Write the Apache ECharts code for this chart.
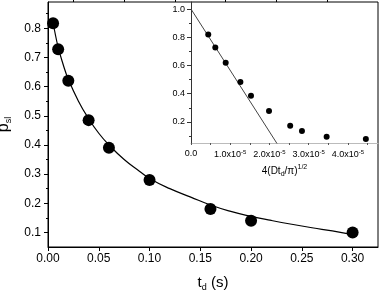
<!DOCTYPE html>
<html><head><meta charset="utf-8">
<script src="https://cdn.jsdelivr.net/npm/echarts@6/dist/echarts.min.js"></script>
<style>html,body{margin:0;padding:0;background:#fff}#c{width:380px;height:294px}</style>
</head><body><div id="c"></div>
<script>
// Main plot data
const tdValues  = [0.005, 0.01, 0.02, 0.04, 0.06, 0.10, 0.16, 0.20, 0.30];
const psiValues = [0.817, 0.728, 0.62, 0.485, 0.39, 0.28, 0.18, 0.14, 0.10];
// Fit curve
const fitT = [0.004, 0.006, 0.01, 0.015, 0.02, 0.03, 0.04, 0.05, 0.06, 0.075, 0.09, 0.10, 0.12, 0.14, 0.16, 0.18, 0.20, 0.22, 0.24, 0.26, 0.28, 0.296];
const fitP = [0.835, 0.80, 0.735, 0.675, 0.625, 0.55, 0.49, 0.44, 0.40, 0.35, 0.31, 0.285, 0.25, 0.222, 0.194, 0.172, 0.155, 0.141, 0.128, 0.116, 0.105, 0.095];
// Inset data (x in units of 1e-5)
const insetX = [0.44, 0.62, 0.885, 1.26, 1.53, 1.99, 2.53, 2.83, 3.46, 4.46];
const insetY = [0.82, 0.728, 0.62, 0.483, 0.385, 0.277, 0.172, 0.135, 0.094, 0.078];
const insetLineX = [0, 2.30];
const insetLineY = [1.0, 0.0];
// Tick labels
const mainXTicks = [0, 0.05, 0.10, 0.15, 0.20, 0.25, 0.30];
const mainXMinor = [0.025, 0.075, 0.125, 0.175, 0.225, 0.275];
const mainYTicks = [0.1, 0.2, 0.3, 0.4, 0.5, 0.6, 0.7, 0.8];
const mainYMinor = [0.15, 0.25, 0.35, 0.45, 0.55, 0.65, 0.75, 0.85];
const insetXTicks = [0, 1, 2, 3, 4];
const insetXMinor = [0.5, 1.5, 2.5, 3.5, 4.5];
const insetYTicks = [0.2, 0.4, 0.6, 0.8, 1.0];
const insetYMinor = [0.1, 0.3, 0.5, 0.7, 0.9];

const FONT = 'Liberation Sans, Arial, sans-serif';
const chart = echarts.init(document.getElementById('c'));

function hiddenAxisBase(gridIndex, min, max) {
  return { gridIndex, min, max, axisLine: {show: false}, axisLabel: {show: false}, splitLine: {show: false} };
}

chart.setOption({
  animation: false,
  backgroundColor: '#fff',
  grid: [
    {left: 48, top: 2, right: 2, bottom: 47, show: true, borderColor: '#000', borderWidth: 1, backgroundColor: 'transparent', outerBoundsMode: 'none', containLabel: false},
    {left: 191, top: 2, right: 2, bottom: 151, show: false, outerBoundsMode: 'none', containLabel: false}
  ],
  xAxis: [
    { gridIndex: 0, type: 'value', min: 0, max: 0.325,
      axisLine: {show: true, onZero: false, lineStyle: {color: '#000', width: 1}},
      axisTick: {show: true, inside: false, length: 4, customValues: mainXTicks, lineStyle: {color: '#000'}},
      axisLabel: {customValues: mainXTicks, formatter: v => v.toFixed(2), color: '#000', fontSize: 12, fontFamily: FONT, margin: 6},
      splitLine: {show: false},
      name: '{t|t}{d|d}{t| (s)}', nameLocation: 'middle', nameGap: 27,
      nameTextStyle: {rich: {t: {fontSize: 15, fontFamily: FONT, color: '#000'}, d: {fontSize: 9, fontFamily: FONT, color: '#000', padding: [9, 0, 0, 0]}}}
    },
    Object.assign(hiddenAxisBase(0, 0, 0.325), {type: 'value',
      axisTick: {show: true, inside: false, length: 2, customValues: mainXMinor, lineStyle: {color: '#000'}}}),
    { gridIndex: 1, type: 'value', min: 0, max: 4.77,
      axisLine: {show: true, onZero: false, lineStyle: {color: '#bbb', width: 1}},
      axisTick: {show: true, inside: false, length: 2, customValues: insetXMinor.concat(insetXTicks), lineStyle: {color: '#555'}},
      axisLabel: {customValues: insetXTicks, color: '#000', fontSize: 9, fontFamily: FONT, margin: 6,
        formatter: v => v === 0 ? '{a|0.0}' : '{a|' + v.toFixed(1) + 'x10}{s|-5}',
        rich: {a: {fontSize: 9, fontFamily: FONT, color: '#000'}, s: {fontSize: 6, fontFamily: FONT, color: '#000', padding: [0, 0, 6, 0]}}},
      splitLine: {show: false},
      name: '{a|4(Dt}{b|d}{a|/π)}{c|1/2}', nameLocation: 'middle', nameGap: 21,
      nameTextStyle: {rich: {a: {fontSize: 10, fontFamily: FONT, color: '#000'}, b: {fontSize: 7, fontFamily: FONT, color: '#000', padding: [6, 0, 0, 0]}, c: {fontSize: 7, fontFamily: FONT, color: '#000', padding: [0, 0, 7, 0]}}}
    }
  ],
  yAxis: [
    { gridIndex: 0, type: 'value', min: 0.05, max: 0.89,
      axisLine: {show: true, onZero: false, lineStyle: {color: '#000', width: 1}},
      axisTick: {show: true, inside: false, length: 4, customValues: mainYTicks, lineStyle: {color: '#000'}},
      axisLabel: {customValues: mainYTicks, formatter: v => v.toFixed(1), color: '#000', fontSize: 12, fontFamily: FONT, margin: 7},
      splitLine: {show: false},
      name: '{p|p}{s|sl}', nameLocation: 'middle', nameGap: 35, nameRotate: 90,
      nameTextStyle: {rich: {p: {fontSize: 16, fontFamily: FONT, color: '#000'}, s: {fontSize: 9, fontFamily: FONT, color: '#000', padding: [9, 0, 0, 0]}}}
    },
    Object.assign(hiddenAxisBase(0, 0.05, 0.89), {type: 'value', position: 'left',
      axisTick: {show: true, inside: false, length: 2, customValues: mainYMinor, lineStyle: {color: '#000'}}}),
    { gridIndex: 1, type: 'value', min: 0.05, max: 1.05,
      axisLine: {show: true, onZero: false, lineStyle: {color: '#333', width: 1}},
      axisTick: {show: true, inside: false, length: 4, customValues: insetYTicks, lineStyle: {color: '#333'}},
      axisLabel: {customValues: insetYTicks, formatter: v => v.toFixed(1), color: '#000', fontSize: 9, fontFamily: FONT, margin: 6},
      splitLine: {show: false}
    },
    Object.assign(hiddenAxisBase(1, 0.05, 1.05), {type: 'value', position: 'left',
      axisTick: {show: true, inside: false, length: 2, customValues: insetYMinor, lineStyle: {color: '#333'}}})
  ],
  series: [
    { type: 'line', xAxisIndex: 0, yAxisIndex: 0, data: fitT.map((t, i) => [t, fitP[i]]), smooth: true,
      showSymbol: false, lineStyle: {color: '#000', width: 1.2}, z: 2 },
    { type: 'scatter', xAxisIndex: 0, yAxisIndex: 0, data: tdValues.map((t, i) => [t, psiValues[i]]),
      symbolSize: 12, itemStyle: {color: '#000', opacity: 1}, z: 3 },
    { type: 'line', xAxisIndex: 2, yAxisIndex: 2, data: insetLineX.map((x, i) => [x, insetLineY[i]]),
      showSymbol: false, lineStyle: {color: '#444', width: 1}, clip: true, z: 2 },
    { type: 'scatter', xAxisIndex: 2, yAxisIndex: 2, data: insetX.map((x, i) => [x, insetY[i]]),
      symbolSize: 6, itemStyle: {color: '#000', opacity: 1}, z: 3 }
  ]
});
</script></body></html>
